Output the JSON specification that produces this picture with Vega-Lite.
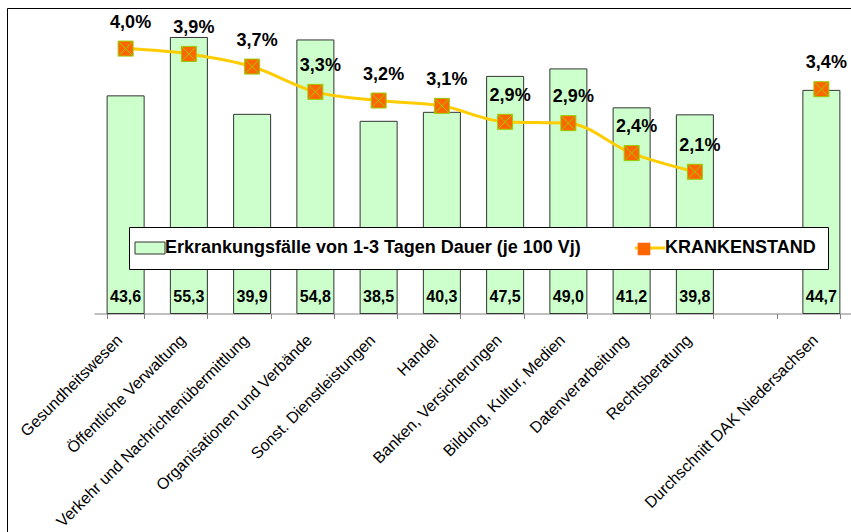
{
  "$schema": "https://vega.github.io/schema/vega-lite/v6.json",
  "width": 845,
  "height": 525,
  "autosize": {"type": "none"},
  "padding": {"left": 7, "top": 8, "right": -1, "bottom": -1},
  "background": "white",
  "config": {
    "view": {"stroke": "#000", "strokeWidth": 1},
    "font": "Liberation Sans",
    "locale": {"number": {"decimal": ",", "thousands": ".", "grouping": [3], "currency": ["", " €"]}}
  },
  "data": {
    "values": [
      {"branche": "Gesundheitswesen", "faelle": 43.6, "krankenstand": 0.0398},
      {"branche": "Öffentliche Verwaltung", "faelle": 55.3, "krankenstand": 0.0390},
      {"branche": "Verkehr und Nachrichtenübermittlung", "faelle": 39.9, "krankenstand": 0.0371},
      {"branche": "Organisationen und Verbände", "faelle": 54.8, "krankenstand": 0.0333},
      {"branche": "Sonst. Dienstleistungen", "faelle": 38.5, "krankenstand": 0.0320},
      {"branche": "Handel", "faelle": 40.3, "krankenstand": 0.0312},
      {"branche": "Banken, Versicherungen", "faelle": 47.5, "krankenstand": 0.0288},
      {"branche": "Bildung, Kultur, Medien", "faelle": 49.0, "krankenstand": 0.0286},
      {"branche": "Datenverarbeitung", "faelle": 41.2, "krankenstand": 0.0241},
      {"branche": "Rechtsberatung", "faelle": 39.8, "krankenstand": 0.0213},
      {"branche": "Durchschnitt DAK Niedersachsen", "faelle": 44.7, "krankenstand": 0.0337}
    ]
  },
  "encoding": {
    "x": {
      "field": "branche",
      "type": "nominal",
      "sort": null,
      "scale": {
        "domain": ["Gesundheitswesen", "Öffentliche Verwaltung", "Verkehr und Nachrichtenübermittlung", "Organisationen und Verbände", "Sonst. Dienstleistungen", "Handel", "Banken, Versicherungen", "Bildung, Kultur, Medien", "Datenverarbeitung", "Rechtsberatung", " ", "Durchschnitt DAK Niedersachsen"],
        "range": [87, 846],
        "paddingInner": 0.415,
        "paddingOuter": 0.2075
      },
      "axis": {
        "title": null,
        "labelAngle": -45,
        "labelFont": "Liberation Sans",
        "labelFontSize": 16,
        "labelColor": "#000",
        "labelPadding": 13,
        "labelOffset": -12,
        "labelLimit": 500,
        "labelOverlap": false,
        "tickBand": "extent",
        "tickSize": 5,
        "tickColor": "#808080",
        "domainColor": "#808080",
        "offset": -219.5
      }
    }
  },
  "layer": [
    {
      "encoding": {
        "y": {"field": "faelle", "type": "quantitative", "scale": {"domain": [0, 60], "range": [305.5, 6]}, "axis": null}
      },
      "layer": [
        {
          "mark": {"type": "bar", "stroke": "#333", "strokeWidth": 1},
          "encoding": {
            "fill": {
              "datum": "Erkrankungsfälle von 1-3 Tagen Dauer (je 100 Vj)",
              "type": "nominal",
              "scale": {"domain": ["Erkrankungsfälle von 1-3 Tagen Dauer (je 100 Vj)", "KRANKENSTAND"], "range": ["#ccffcc", "#ffcc00"]},
              "legend": {
                "orient": "none",
                "legendX": 122,
                "legendY": 219,
                "direction": "horizontal",
                "title": null,
                "fillColor": "#fff",
                "strokeColor": "#000",
                "padding": 12,
                "labelFont": "Liberation Sans",
                "labelFontSize": 18,
                "labelFontWeight": "bold",
                "labelColor": "#000",
                "labelLimit": 1000,
                "labelOffset": 6,
                "columnPadding": 48,
                "symbolSize": 900,
                "symbolType": "M-1,-0.4H1V0.4H-1Z",
                "symbolStrokeColor": "#333",
                "symbolStrokeWidth": 1,
                "symbolOpacity": 1,
                "encode": {
                  "symbols": {
                    "update": {
                      "shape": {"signal": "datum.value === 'KRANKENSTAND' ? 'M-1,0H1' : 'M-1,-0.4H1V0.4H-1Z'"},
                      "fill": {"signal": "datum.value === 'KRANKENSTAND' ? 'transparent' : '#ccffcc'"},
                      "stroke": {"signal": "datum.value === 'KRANKENSTAND' ? '#ffcc00' : '#333'"},
                      "strokeWidth": {"signal": "datum.value === 'KRANKENSTAND' ? 3 : 1"}
                    }
                  }
                }
              }
            }
          }
        },
        {
          "mark": {"type": "text", "fontWeight": "bold", "fontSize": 16, "baseline": "alphabetic", "dy": -12, "color": "#000", "font": "Liberation Sans"},
          "encoding": {
            "y": {"datum": 0},
            "text": {"field": "faelle", "type": "quantitative", "format": ".1f"}
          }
        }
      ]
    },
    {
      "encoding": {
        "y": {"field": "krankenstand", "type": "quantitative", "scale": {"domain": [0, 0.045], "range": [305.5, 6]}, "axis": null}
      },
      "layer": [
        {
          "transform": [{"filter": "datum.branche !== 'Durchschnitt DAK Niedersachsen'"}],
          "mark": {"type": "line", "color": "#ffcc00", "strokeWidth": 3, "interpolate": "monotone"}
        },
        {
          "mark": {"type": "point", "filled": true, "fill": "#ff6600", "stroke": "#99cc00", "strokeWidth": 1, "size": 225, "opacity": 1},
          "encoding": {
            "shape": {
              "datum": "KRANKENSTAND_M",
              "type": "nominal",
              "scale": {"range": ["M-1,-1H1V1H-1Z M-1,-1L1,1 M1,-1L-1,1"]},
              "legend": {
                "orient": "none",
                "legendX": 630,
                "legendY": 234,
                "title": null,
                "padding": 0,
                "symbolSize": 160,
                "symbolType": "M-1,-1H1V1H-1Z M-1,-1L1,1 M1,-1L-1,1",
                "symbolFillColor": "#ff6600",
                "symbolStrokeColor": "#99cc00",
                "symbolStrokeWidth": 1,
                "symbolOpacity": 1,
                "labelExpr": "''",
                "labelFontSize": 1,
                "labelOffset": 0,
                "zindex": 5
              }
            }
          }
        },
        {
          "mark": {"type": "text", "fontWeight": "bold", "fontSize": 18, "baseline": "middle", "dx": 5, "dy": -26, "color": "#000", "font": "Liberation Sans"},
          "encoding": {
            "text": {"field": "krankenstand", "type": "quantitative", "format": ".1%"}
          }
        }
      ]
    }
  ],
  "resolve": {"scale": {"y": "independent"}}
}
